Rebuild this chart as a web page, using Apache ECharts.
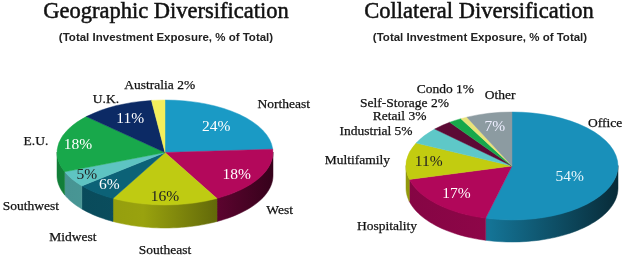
<!DOCTYPE html>
<html>
<head>
<meta charset="utf-8">
<script src="https://cdn.jsdelivr.net/npm/echarts@6/dist/echarts.min.js"></script>
<style>
html,body{margin:0;padding:0;background:#fff;}
#c{width:622px;height:258px;}
</style>
</head>
<body>
<div id="c"></div>
<script>
// ---- data ----
const geoNames = ['Northeast', 'West', 'Southeast', 'Midwest', 'Southwest', 'E.U.', 'U.K.', 'Australia'];
const geoValues = [24, 18, 16, 6, 5, 18, 11, 2];
const geoInside = [true, true, true, true, true, true, true, false];

const collNames = ['Office', 'Hospitality', 'Multifamily', 'Industrial', 'Retail', 'Self-Storage', 'Condo', 'Other'];
const collValues = [54, 17, 11, 5, 3, 2, 1, 7];
const collInside = [true, true, true, false, false, false, false, true];

const titles = ['Geographic Diversification', 'Collateral Diversification'];
const subtitle = '(Total Investment Exposure, % of Total)';

// ---- styles / layout ----
const geoColors = ['#1a9ac5', '#b3085b', '#bfcb12', '#0c6277', '#5ec4c2', '#18a84b', '#0c2a65', '#f4ef5c'];
const geoTextColors = ['#fff', '#fff', '#222', '#fff', '#222', '#fff', '#fff', '#222'];
// [outer angle shift deg, outer radius factor, align, inner angle shift deg, inner radius factor]
const geoLabelLayout = [
  [0, 1.25, 'left', 1, 0.68],
  [6.5, 1.15, 'left', 4, 0.79],
  [0, 1.42, 'center', 0, 0.85],
  [-3.6, 1.45, 'center', 0, 0.81],
  [0, 1.14, 'right', 0, 0.84],
  [0, 1.1, 'right', 0, 0.82],
  [4, 1.09, 'right', 0, 0.71],
  [1.4, 1.27, 'center', 0, 0.7]
];
const collColors = ['#1990ba', '#b1075a', '#c2cc10', '#5ec8c8', '#5c0a35', '#18a84b', '#e9e37a', '#8c9ba1'];
const collTextColors = ['#e8f6fb', '#fff', '#222', '#fff', '#fff', '#fff', '#222', '#eef'];
const collLabelLayout = [
  [-55.2, 1.07, 'left', 13, 0.58],
  [6.8, 1.14, 'right', 0, 0.74],
  [0, 1.156, 'right', 0, 0.79],
  [0, 1.134, 'right', 0, 0.7],
  [0, 1.22, 'right', 0, 0.7],
  [5.4, 1.31, 'right', 0, 0.7],
  [12.9, 1.47, 'right', 0, 0.7],
  [7.7, 1.32, 'center', 0, 0.74]
];
const geoGeom = {cx: 165, cy: 152.5, rx: 108, ry: 52.5, depth: 23};
const collGeom = {cx: 512, cy: 166, rx: 106, ry: 54, depth: 22};

function shade(hex, k) {
  const n = parseInt(hex.slice(1), 16);
  const r = Math.round(((n >> 16) & 255) * k), g = Math.round(((n >> 8) & 255) * k), b = Math.round((n & 255) * k);
  return 'rgb(' + r + ',' + g + ',' + b + ')';
}

function makePie(names, values, inside, colors, textColors, layout, geo) {
  const total = values.reduce((a, b) => a + b, 0);
  const starts = [];
  let acc = 0;
  values.forEach(v => { starts.push(acc); acc += v; });
  return {
    type: 'custom',
    coordinateSystem: 'none',
    silent: true,
    data: values.map((v, i) => [v, starts[i], total]),
    renderItem: function (params, api) {
      const i = params.dataIndex;
      const v = api.value(0), s = api.value(1), T = api.value(2);
      const t0 = s / T * 2 * Math.PI, t1 = (s + v) / T * 2 * Math.PI;
      const a0 = t0 - Math.PI / 2, a1 = t1 - Math.PI / 2;
      const cx = geo.cx, cy = geo.cy, rx = geo.rx, ry = geo.ry, depth = geo.depth;
      const children = [];
      const fa = Math.max(a0, 0), fb = Math.min(a1, Math.PI);
      if (fb > fa) {
        const pts = [];
        const n = Math.max(2, Math.ceil((fb - fa) / 0.04));
        for (let k = 0; k <= n; k++) {
          const a = fa + (fb - fa) * k / n;
          pts.push([cx + rx * Math.cos(a), cy + ry * Math.sin(a) - 0.5]);
        }
        for (let k = n; k >= 0; k--) {
          const a = fa + (fb - fa) * k / n;
          pts.push([cx + rx * Math.cos(a), cy + ry * Math.sin(a) + depth]);
        }
        const grad = new echarts.graphic.LinearGradient(cx - rx, 0, cx + rx, 0, [
          {offset: 0, color: shade(colors[i], 0.75)},
          {offset: 0.4, color: shade(colors[i], 0.8)},
          {offset: 0.7, color: shade(colors[i], 0.55)},
          {offset: 1, color: shade(colors[i], 0.3)}
        ], true);
        children.push({type: 'polygon', shape: {points: pts}, style: {fill: grad, stroke: grad, lineWidth: 0.5}});
      }
      children.push({
        type: 'sector', x: cx, y: cy, scaleY: ry / rx,
        shape: {cx: 0, cy: 0, r: rx, r0: 0, startAngle: a0, endAngle: a1, clockwise: true},
        style: {fill: colors[i], stroke: colors[i], lineWidth: 0.6}
      });
      const L = layout[i];
      const mid = (t0 + t1) / 2;
      if (inside[i]) {
        const ti = mid + L[3] * Math.PI / 180;
        children.push({
          type: 'text',
          x: cx + rx * L[4] * Math.sin(ti), y: cy - ry * L[4] * Math.cos(ti),
          style: {text: v + '%', fill: textColors[i], font: '15.5px "Liberation Serif"',
            align: 'center', verticalAlign: 'middle', textAlign: 'center', textVerticalAlign: 'middle'}
        });
      }
      const to = mid + L[0] * Math.PI / 180;
      const yb = Math.cos(to) < 0 ? cy + depth : cy;
      children.push({
        type: 'text',
        x: cx + rx * L[1] * Math.sin(to), y: yb - ry * L[1] * Math.cos(to),
        style: {text: inside[i] ? names[i] : names[i] + ' ' + v + '%', fill: '#111',
          font: '13.5px "Liberation Serif"', stroke: '#111', lineWidth: 0.25,
          align: L[2], verticalAlign: 'middle', textAlign: L[2], textVerticalAlign: 'middle'}
      });
      return {type: 'group', children: children};
    }
  };
}

const chart = echarts.init(document.getElementById('c'), null, {renderer: 'canvas'});
const titleFont = {fontFamily: 'Liberation Serif', fontSize: 22.5, fontWeight: 'normal', color: '#111',
  textBorderColor: '#111', textBorderWidth: 0.5};
const subFont = {fontFamily: 'Liberation Sans', fontSize: 11.5, fontWeight: 'bold', color: '#222'};
chart.setOption({
  animation: false,
  backgroundColor: '#fff',
  title: [
    {text: titles[0], left: 166, top: 1, padding: 0, textAlign: 'center', textStyle: titleFont},
    {text: subtitle, left: 166, top: 32, padding: 0, textAlign: 'center', textStyle: subFont},
    {text: titles[1], left: 479, top: 1, padding: 0, textAlign: 'center', textStyle: titleFont},
    {text: subtitle, left: 480, top: 32, padding: 0, textAlign: 'center', textStyle: subFont}
  ],
  series: [
    makePie(geoNames, geoValues, geoInside, geoColors, geoTextColors, geoLabelLayout, geoGeom),
    makePie(collNames, collValues, collInside, collColors, collTextColors, collLabelLayout, collGeom)
  ]
});
</script>
</body>
</html>
